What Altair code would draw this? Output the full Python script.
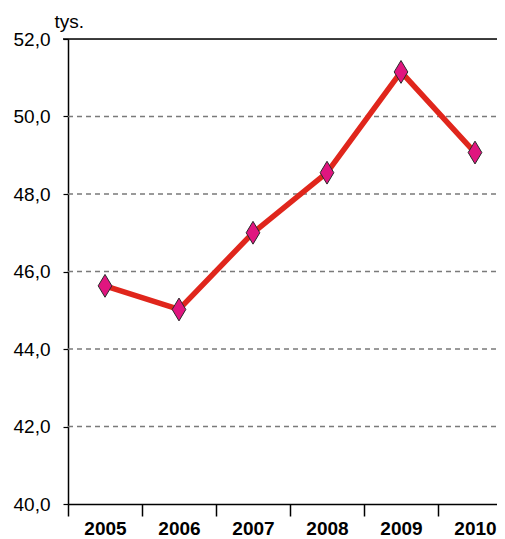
import altair as alt
import pandas as pd

years = ["2005", "2006", "2007", "2008", "2009", "2010"]
values = [45.63, 45.02, 47.0, 48.55, 51.15, 49.07]
grid_dashed = [42, 44, 46, 48, 50]
grid_top = [52]

df = pd.DataFrame({"year": years, "value": values})
gd = pd.DataFrame({"v": grid_dashed})
gt = pd.DataFrame({"v": grid_top})

FONT = "Liberation Sans"
FS = 19
FULLW = 444

yscale = alt.Scale(domain=[40, 52], nice=False, zero=False)
xscale = alt.Scale(paddingInner=0, paddingOuter=0, range=[0, FULLW])

yaxis = alt.Axis(values=[40, 42, 44, 46, 48, 50, 52], grid=False,
                 tickSize=5, tickColor="black", domainColor="black",
                 domainWidth=1.5, tickWidth=1.2,
                 labelFont=FONT, labelFontSize=FS, labelColor="black",
                 labelPadding=13,
                 labelExpr="replace(format(datum.value, '.1f'), '.', ',')",
                 title="tys.", titleAngle=0, titleAlign="left",
                 titleBaseline="alphabetic", titleX=-14, titleY=-12,
                 titleFont=FONT, titleFontSize=FS, titleFontWeight="normal",
                 titleColor="black")

xaxis = alt.Axis(title=None, tickBand="extent", tickSize=12,
                 tickColor="black", domainColor="black",
                 labelFont=FONT, labelFontSize=FS, labelFontWeight="bold",
                 labelColor="black", labelPadding=3, labelAngle=0,
                 grid=False, domainWidth=1.5, tickWidth=1.5)

grid1 = alt.Chart(gd).mark_rule(color="#7a7a7a", strokeDash=[5, 4], strokeWidth=1.3).encode(
    y=alt.Y("v:Q", scale=yscale, axis=yaxis, title="tys."),
    x=alt.value(0), x2=alt.value(FULLW))
grid2 = alt.Chart(gt).mark_rule(color="black", strokeWidth=1.3).encode(
    y=alt.Y("v:Q", scale=yscale, title="tys."),
    x=alt.value(-5), x2=alt.value(FULLW))

line = alt.Chart(df).mark_line(color="#e0261c", strokeWidth=5.5).encode(
    x=alt.X("year:N", scale=xscale, sort=years, axis=xaxis),
    y=alt.Y("value:Q", scale=yscale, title="tys."))

points = alt.Chart(df).mark_point(
    shape="M0,-1L0.6,0L0,1L-0.6,0Z", filled=True, fill="#e0157f",
    stroke="#2a2a2a", strokeWidth=1, opacity=1, size=520).encode(
    x=alt.X("year:N", scale=xscale, sort=years),
    y=alt.Y("value:Q", scale=yscale, title="tys."))

chart = alt.layer(grid1, grid2, line, points).properties(
    width=429, height=465,
    autosize=alt.AutoSizeParams(type="none"),
    padding={"left": 60, "top": 31, "right": 0, "bottom": 38},
).configure_view(stroke=None).configure(background="white")

chart.save("out.html", embed_options={"renderer": "svg", "actions": False})
